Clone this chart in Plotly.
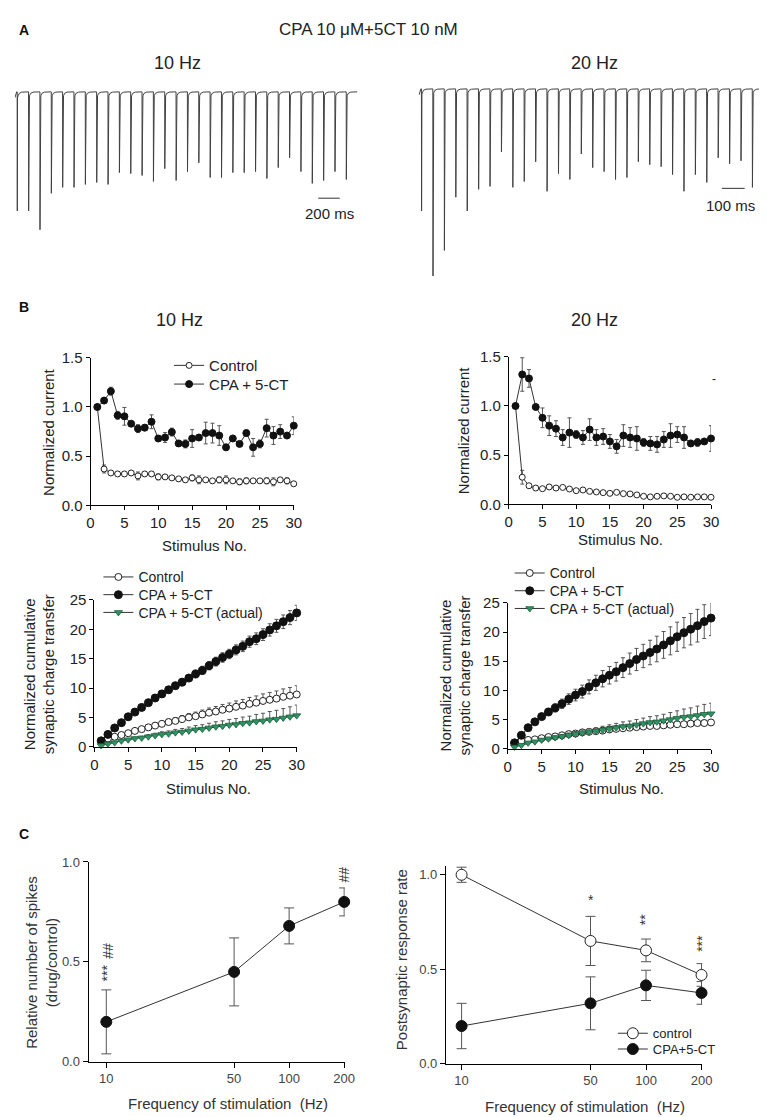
import plotly.graph_objects as go

W, H = 767, 1117
FONT = "Arial, Liberation Sans, sans-serif"


def X(p):
    return p / W


def Y(p):
    return 1 - p / H


# ---------------- DATA ----------------
stim = list(range(1, 31))

# Panel A: downward peak amplitudes (a.u.) of the 30 responses
trace10_amp = [121, 121, 140, 103, 97, 97, 94, 92, 94, 82, 83, 85, 91, 78, 90,
               81, 72, 87, 87, 82, 82, 81, 88, 77, 67, 81, 93, 90, 81, 89]
trace20_amp = [124, 190, 164, 110, 124, 102, 99, 64, 100, 94, 74, 104, 86, 92, 66,
               80, 84, 92, 90, 74, 77, 79, 87, 104, 87, 95, 70, 76, 73, 100]

# Panel B top: normalized current
cpa10 = [1.00, 1.065, 1.16, 0.915, 0.905, 0.83, 0.78, 0.79, 0.85, 0.68, 0.69, 0.745, 0.63, 0.625, 0.68,
         0.69, 0.735, 0.735, 0.71, 0.59, 0.68, 0.625, 0.735, 0.59, 0.625, 0.785, 0.71, 0.75, 0.71, 0.81]
cpa10_err = [0, 0.03, 0.04, 0.04, 0.09, 0.02, 0.04, 0.03, 0.07, 0.03, 0.05, 0.04, 0.03, 0.04, 0.09,
             0.03, 0.11, 0.1, 0.1, 0.03, 0.02, 0.02, 0.03, 0.09, 0.04, 0.09, 0.09, 0.07, 0.02, 0.09]
ctrl10 = [1.00, 0.37, 0.33, 0.32, 0.32, 0.33, 0.30, 0.32, 0.32, 0.29, 0.29, 0.28, 0.27, 0.26, 0.28,
          0.26, 0.26, 0.25, 0.26, 0.26, 0.25, 0.24, 0.25, 0.25, 0.25, 0.25, 0.24, 0.26, 0.25, 0.22]
ctrl10_err = [0, 0.04, 0.02, 0.02, 0.02, 0.02, 0.04, 0.02, 0.02, 0.03, 0.02, 0.02, 0.02, 0.02, 0.03,
              0.04, 0.02, 0.02, 0.03, 0.04, 0.02, 0.03, 0.03, 0.02, 0.02, 0.03, 0.04, 0.02, 0.03, 0.02]

cpa20 = [1.00, 1.32, 1.28, 0.99, 0.88, 0.80, 0.77, 0.68, 0.73, 0.71, 0.68, 0.76, 0.68, 0.69, 0.64,
         0.59, 0.70, 0.68, 0.67, 0.63, 0.62, 0.61, 0.66, 0.70, 0.71, 0.68, 0.62, 0.63, 0.64, 0.67]
cpa20_err = [0, 0.17, 0.09, 0, 0.1, 0.1, 0.08, 0.08, 0.15, 0.04, 0.07, 0.11, 0.08, 0.08, 0.07,
             0.07, 0.11, 0.1, 0.12, 0.04, 0.07, 0.08, 0.08, 0.12, 0.08, 0.11, 0.03, 0.04, 0.02, 0.13]
ctrl20 = [1.00, 0.277, 0.19, 0.167, 0.16, 0.178, 0.167, 0.173, 0.157, 0.14, 0.147, 0.133, 0.127, 0.12, 0.113,
          0.123, 0.11, 0.107, 0.097, 0.083, 0.077, 0.083, 0.087, 0.083, 0.073, 0.077, 0.073, 0.077, 0.077, 0.073]
ctrl20_err = [0, 0.07, 0.01, 0.01, 0.01, 0.01, 0.01, 0.01, 0.01, 0.01, 0.01, 0.01, 0.01, 0.01, 0.01,
              0.01, 0.01, 0.01, 0.01, 0.01, 0.01, 0.01, 0.01, 0.01, 0.01, 0.01, 0.01, 0.01, 0.01, 0.01]

# Panel B bottom: normalized cumulative synaptic charge transfer
cum_cpa10 = [1.0, 2.1, 3.2, 4.1, 5.1, 5.9, 6.7, 7.5, 8.3, 9.0, 9.7, 10.4, 11.0, 11.7, 12.4,
             13.0, 13.8, 14.5, 15.2, 15.8, 16.5, 17.1, 17.9, 18.4, 19.1, 19.9, 20.6, 21.3, 22.0, 22.8]
cum_cpa10_err = [0, 0.1, 0.15, 0.2, 0.25, 0.3, 0.35, 0.4, 0.45, 0.5, 0.5, 0.55, 0.6, 0.6, 0.65,
                 0.7, 0.7, 0.75, 0.8, 0.8, 0.85, 0.9, 0.95, 1.0, 1.0, 1.05, 1.1, 1.15, 1.2, 1.3]
cum_ctrl10 = [1.0, 1.4, 1.7, 2.0, 2.3, 2.7, 3.0, 3.3, 3.6, 3.9, 4.2, 4.4, 4.7, 5.0, 5.2,
              5.5, 5.8, 6.0, 6.3, 6.5, 6.8, 7.0, 7.3, 7.5, 7.8, 8.0, 8.2, 8.5, 8.7, 8.9]
cum_ctrl10_err = [0, 0.05, 0.1, 0.15, 0.2, 0.25, 0.3, 0.35, 0.4, 0.45, 0.5, 0.55, 0.6, 0.65, 0.7,
                  0.75, 0.8, 0.85, 0.9, 0.95, 1.0, 1.05, 1.1, 1.15, 1.2, 1.25, 1.3, 1.35, 1.4, 1.5]
cum_act10 = [0.2, 0.5, 0.7, 1.0, 1.2, 1.4, 1.5, 1.7, 1.9, 2.1, 2.2, 2.4, 2.5, 2.7, 2.9,
             3.0, 3.2, 3.4, 3.5, 3.7, 3.8, 4.0, 4.1, 4.3, 4.4, 4.6, 4.7, 4.9, 5.1, 5.3]
cum_act10_err = [0, 0.05, 0.1, 0.15, 0.2, 0.25, 0.3, 0.35, 0.4, 0.45, 0.5, 0.55, 0.6, 0.65, 0.7,
                 0.75, 0.8, 0.85, 0.9, 0.95, 1.0, 1.05, 1.1, 1.2, 1.3, 1.4, 1.5, 1.6, 1.7, 1.8]

cum_cpa20 = [1.0, 2.3, 3.6, 4.6, 5.5, 6.3, 7.0, 7.7, 8.5, 9.2, 9.8, 10.6, 11.3, 12.0, 12.6,
             13.2, 13.9, 14.6, 15.3, 15.9, 16.5, 17.1, 17.8, 18.5, 19.2, 19.9, 20.5, 21.1, 21.8, 22.4]
cum_cpa20_err = [0, 0.2, 0.3, 0.4, 0.5, 0.6, 0.7, 0.8, 0.9, 1.0, 1.1, 1.2, 1.3, 1.4, 1.5,
                 1.6, 1.7, 1.8, 1.9, 2.0, 2.1, 2.2, 2.3, 2.4, 2.5, 2.6, 2.7, 2.8, 2.9, 3.0]
cum_ctrl20 = [1.0, 1.3, 1.5, 1.6, 1.8, 2.0, 2.1, 2.3, 2.5, 2.6, 2.8, 2.9, 3.0, 3.1, 3.3,
              3.4, 3.5, 3.6, 3.7, 3.8, 3.9, 3.9, 4.0, 4.1, 4.2, 4.2, 4.3, 4.4, 4.4, 4.5]
cum_ctrl20_err = [0, 0.05, 0.05, 0.05, 0.1, 0.1, 0.1, 0.15, 0.15, 0.15, 0.2, 0.2, 0.2, 0.25, 0.25,
                  0.25, 0.3, 0.3, 0.3, 0.35, 0.35, 0.35, 0.4, 0.4, 0.4, 0.45, 0.45, 0.45, 0.5, 0.5]
cum_act20 = [0.3, 0.6, 1.0, 1.2, 1.5, 1.7, 1.9, 2.1, 2.3, 2.5, 2.7, 2.9, 3.0, 3.2, 3.4,
             3.6, 3.8, 3.9, 4.1, 4.3, 4.5, 4.6, 4.8, 5.0, 5.2, 5.4, 5.5, 5.7, 5.9, 6.0]
cum_act20_err = [0, 0.05, 0.1, 0.15, 0.2, 0.25, 0.3, 0.35, 0.4, 0.45, 0.5, 0.55, 0.6, 0.65, 0.7,
                 0.75, 0.8, 0.85, 0.9, 0.95, 1.0, 1.05, 1.1, 1.2, 1.3, 1.4, 1.5, 1.6, 1.7, 1.8]

# Panel C
freq = [10, 50, 100, 200]
freq_labels = ["10", "50", "100", "200"]
rel_spikes = [0.20, 0.45, 0.68, 0.80]
rel_spikes_err = [0.16, 0.17, 0.09, 0.07]
resp_ctrl = [1.00, 0.65, 0.60, 0.47]
resp_ctrl_err = [0.04, 0.13, 0.06, 0.06]
resp_cpa = [0.20, 0.32, 0.415, 0.375]
resp_cpa_err = [0.12, 0.14, 0.08, 0.06]


# ---------------- helpers ----------------
def waveform(amps, period, pre):
    t = [-pre, -pre * 0.6, -pre * 0.25]
    v = [-6, -2, 0]
    for i, a in enumerate(amps):
        t0 = i * period
        t += [t0, t0 + 0.8, t0 + 2.2, t0 + 0.08 * period, t0 + 0.18 * period,
              t0 + 0.4 * period, t0 + 0.97 * period]
        v += [0, -a, -6, -4, -1.5, -0.3, 0]
    return t, v


fig = go.Figure()
LINE = "#333333"
ERR = "#555555"

# ---- Panel A traces ----
t10, v10 = waveform(trace10_amp, 100, 20)
t20, v20 = waveform(trace20_amp, 50, 10)
fig.add_trace(go.Scatter(x=t10, y=v10, mode="lines", line=dict(color="#404040", width=1),
                         xaxis="x7", yaxis="y7", showlegend=False, hoverinfo="skip"))
fig.add_trace(go.Scatter(x=t20, y=v20, mode="lines", line=dict(color="#404040", width=1),
                         xaxis="x8", yaxis="y8", showlegend=False, hoverinfo="skip"))
# scale bars
fig.add_trace(go.Scatter(x=[2653, 2843], y=[-108, -108], mode="lines", line=dict(color="#333", width=1),
                         xaxis="x7", yaxis="y7", showlegend=False, hoverinfo="skip"))
fig.add_trace(go.Scatter(x=[1317, 1417], y=[-101, -101], mode="lines", line=dict(color="#333", width=1),
                         xaxis="x8", yaxis="y8", showlegend=False, hoverinfo="skip"))


def err(arr, w=2, sym=True):
    d = dict(type="data", array=arr, color=ERR, thickness=1, width=w, visible=True)
    if not sym:
        d["symmetric"] = False
        d["arrayminus"] = [0] * len(arr)
    return d


def open_m(s):
    return dict(symbol="circle", size=s, color="white", line=dict(color="#222", width=1))


def fill_m(s):
    return dict(symbol="circle", size=s, color="#111", line=dict(color="#111", width=1))


GREEN = "#2f9463"
tri_m = dict(symbol="triangle-down", size=7, color=GREEN, line=dict(color="#1d5c3c", width=0.8))


def sc(x, y, e, marker, xa, ya, name=None, legend=None):
    return go.Scatter(x=x, y=y, error_y=e, mode="lines+markers", marker=marker,
                      line=dict(color=LINE, width=1), name=name, showlegend=legend is not None,
                      legend=legend if legend else "legend", xaxis=xa, yaxis=ya, cliponaxis=False)


# ---- B top-left ----
fig.add_trace(sc(stim, ctrl10, err(ctrl10_err), open_m(6), "x", "y", "Control", "legend"))
fig.add_trace(sc(stim, cpa10, err(cpa10_err), fill_m(7), "x", "y", "CPA + 5-CT", "legend2"))
# ---- B top-right ----
fig.add_trace(sc(stim, ctrl20, err(ctrl20_err), open_m(6), "x2", "y2"))
fig.add_trace(sc(stim, cpa20, err(cpa20_err), fill_m(7), "x2", "y2"))
# ---- B bottom-left ----
fig.add_trace(sc(stim, cum_ctrl10, err(cum_ctrl10_err, sym=False), open_m(7), "x3", "y3", "Control", "legend3"))
fig.add_trace(sc(stim, cum_cpa10, err(cum_cpa10_err), fill_m(8), "x3", "y3", "CPA + 5-CT", "legend4"))
fig.add_trace(sc(stim, cum_act10, err(cum_act10_err, sym=False), tri_m, "x3", "y3", "CPA + 5-CT (actual)", "legend5"))
# ---- B bottom-right ----
fig.add_trace(sc(stim, cum_ctrl20, err(cum_ctrl20_err, sym=False), open_m(7), "x4", "y4", "Control", "legend6"))
fig.add_trace(sc(stim, cum_cpa20, err(cum_cpa20_err), fill_m(8), "x4", "y4", "CPA + 5-CT", "legend7"))
fig.add_trace(sc(stim, cum_act20, err(cum_act20_err, sym=False), tri_m, "x4", "y4", "CPA + 5-CT (actual)", "legend8"))
# ---- C left ----
fig.add_trace(sc(freq, rel_spikes, err(rel_spikes_err, w=5), fill_m(11), "x5", "y5"))
# ---- C right ----
fig.add_trace(sc(freq, resp_ctrl, err(resp_ctrl_err, w=5), open_m(11), "x6", "y6", "control", "legend9"))
fig.add_trace(sc(freq, resp_cpa, err(resp_cpa_err, w=5), fill_m(11), "x6", "y6", "CPA+5-CT", "legend10"))


# ---------------- axes ----------------
def ax(dom, rng, tickvals, ticktext=None, anchor=None, size=15, ticklen=4, typ="linear", color="#222"):
    d = dict(domain=dom, range=rng, tickvals=tickvals, showline=True, linecolor="black", linewidth=1,
             ticks="outside", ticklen=ticklen, tickwidth=1, tickcolor="black", showgrid=False,
             zeroline=False, tickfont=dict(size=size, color=color, family=FONT), type=typ, fixedrange=True)
    if ticktext is not None:
        d["ticktext"] = ticktext
    if anchor:
        d["anchor"] = anchor
    return d


xt = [0, 5, 10, 15, 20, 25, 30]
yt_cur = [0, 0.5, 1.0, 1.5]
yt_cur_txt = ["0.0", "0.5", "1.0", "1.5"]
yt_cum = [0, 5, 10, 15, 20, 25]
yt_c = [0, 0.5, 1.0]
yt_c_txt = ["0.0", "0.5", "1.0"]

layout_axes = dict(
    xaxis=ax([X(80), X(287)], [0, 30], xt, anchor="y"),
    yaxis=ax([Y(496), Y(346)], [0, 1.5], yt_cur, yt_cur_txt, anchor="x"),
    xaxis2=ax([X(506), X(712)], [0, 30], xt, anchor="y2"),
    yaxis2=ax([Y(495), Y(345)], [0, 1.5], yt_cur, yt_cur_txt, anchor="x2"),
    xaxis3=ax([X(84), X(290)], [0, 30], xt, anchor="y3"),
    yaxis3=ax([Y(741), Y(592)], [0, 25], yt_cum, anchor="x3"),
    xaxis4=ax([X(505), X(712)], [0, 30], xt, anchor="y4"),
    yaxis4=ax([Y(743), Y(595)], [0, 25], yt_cum, anchor="x4"),
    xaxis5=ax([X(78), X(339)], [0.903, 2.3045], freq, freq_labels, anchor="y5",
              size=13, ticklen=5, typ="log", color="#444"),
    yaxis5=ax([Y(1061), Y(858)], [0, 1.0], yt_c, yt_c_txt, anchor="x5",
              size=13, ticklen=5, color="#444"),
    xaxis6=ax([X(442), X(703)], [0.915, 2.3045], freq, freq_labels, anchor="y6",
              size=13, ticklen=5, typ="log", color="#444"),
    yaxis6=ax([Y(1063), Y(862)], [0, 1.047], yt_c, yt_c_txt, anchor="x6",
              size=13, ticklen=5, color="#444"),
    xaxis7=dict(domain=[X(3), X(352)], range=[-20, 3000], visible=False, anchor="y7", fixedrange=True),
    yaxis7=dict(domain=[Y(225), Y(60)], range=[-149, 16], visible=False, anchor="x7", fixedrange=True),
    xaxis8=dict(domain=[X(414), X(764)], range=[-13, 1493], visible=False, anchor="y8", fixedrange=True),
    yaxis8=dict(domain=[Y(275), Y(60)], range=[-202, 13], visible=False, anchor="x8", fixedrange=True),
)


def ann(text, x, y, size=15, xanchor="center", yanchor="middle", angle=0, color="#222"):
    return dict(text=text, x=X(x), y=Y(y), xref="paper", yref="paper", showarrow=False,
                font=dict(size=size, color=color, family=FONT), xanchor=xanchor, yanchor=yanchor,
                textangle=angle)


annotations = [
    ann("<b>A</b>", 12, 13, size=14, color="#111"),
    ann("CPA 10 \u03bcM+5CT 10 nM", 270, 13, size=17, xanchor="left"),
    ann("10 Hz", 169, 47, size=18),
    ann("20 Hz", 593, 47, size=18),
    ann("200 ms", 323, 200, size=15),
    ann("100 ms", 732, 191, size=15),
    ann("<b>B</b>", 12, 294, size=14, color="#111"),
    ann("10 Hz", 171, 308, size=18),
    ann("20 Hz", 593, 308, size=18),
    ann("Normalized current", 37, 421, size=15, angle=-90),
    ann("Normalized current", 460, 420, size=15, angle=-90),
    ann("Stimulus No.", 196, 537, size=15),
    ann("Stimulus No.", 620, 531, size=15),
    ann("-", 715, 368, size=12),
    ann("Normalized cumulative<br>synaptic charge transfer", 28, 667, size=15, angle=-90),
    ann("Normalized cumulative<br>synaptic charge transfer", 452, 669, size=15, angle=-90),
    ann("Stimulus No.", 200, 783, size=15),
    ann("Stimulus No.", 621, 783, size=15),
    ann("<b>C</b>", 12, 830, size=14, color="#111"),
    ann("Relative number of spikes<br>(drug/control)", 30, 960, size=15, angle=-90, color="#333"),
    ann("Postsynaptic response rate", 397, 957, size=15, angle=-90, color="#333"),
    ann("Frequency of stimulation  (Hz)", 220, 1103, size=15, color="#333"),
    ann("Frequency of stimulation  (Hz)", 584, 1106, size=15, color="#333"),
    ann("***", 97, 971, size=14, angle=-90, color="#333"),
    ann("##", 97, 948, size=14, angle=-90, color="#333"),
    ann("##", 338, 871, size=14, angle=-90, color="#333"),
    ann("*", 590, 897, size=14, color="#333"),
    ann("**", 645, 917, size=14, angle=-90, color="#333"),
    ann("***", 703, 941, size=14, angle=-90, color="#333"),
]


def leg(x, yc, size):
    return dict(x=X(x), y=Y(yc), xanchor="left", yanchor="middle", bgcolor="rgba(0,0,0,0)",
                borderwidth=0, font=dict(size=size, color="#222", family=FONT), tracegroupgap=0,
                itemclick=False, itemdoubleclick=False)


fig.update_layout(
    width=W, height=H, margin=dict(l=0, r=0, t=0, b=0),
    paper_bgcolor="white", plot_bgcolor="white",
    font=dict(family=FONT, color="#222"),
    annotations=annotations,
    legend=leg(160, 354, 15),
    legend2=leg(160, 373, 15),
    legend3=leg(88, 569, 14),
    legend4=leg(88, 587, 14),
    legend5=leg(88, 605, 14),
    legend6=leg(507, 565, 14),
    legend7=leg(507, 583, 14),
    legend8=leg(507, 601, 14),
    legend9=leg(612, 1032, 13),
    legend10=leg(612, 1048, 13),
    **layout_axes,
)

fig.write_html("out.html")
